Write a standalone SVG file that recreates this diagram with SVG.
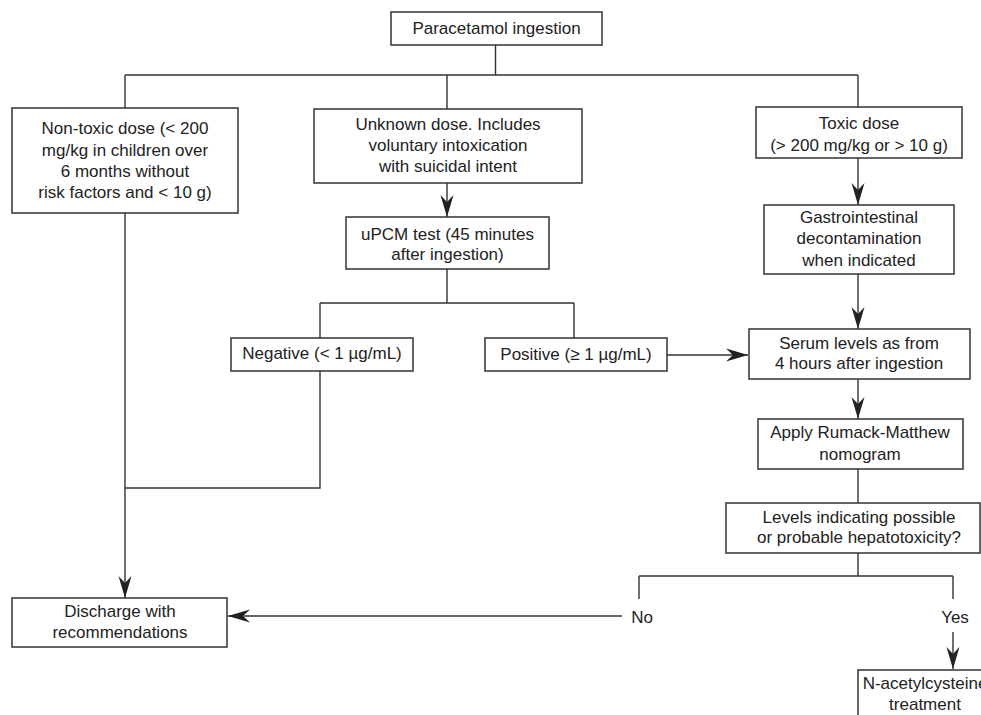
<svg xmlns="http://www.w3.org/2000/svg" width="981" height="715" viewBox="0 0 981 715">
<style>
.box{fill:#fff;stroke:#333;stroke-width:1.5}
.ln{fill:none;stroke:#333;stroke-width:1.4}
text{font-family:"Liberation Sans",Arial,sans-serif;font-size:17px;fill:#222;text-anchor:middle}
</style>
<defs>
<marker id="ah" markerUnits="userSpaceOnUse" markerWidth="24" markerHeight="16" viewBox="-23 -8 24 16" refX="0" refY="0" orient="auto">
<path d="M0,0 L-22,-6.5 L-15,0 L-22,6.5 Z" fill="#222"/>
</marker>
</defs>
<rect width="981" height="715" fill="#fff"/>
<g id="connectors">
<path class="ln" d="M495.5,45 V75 M125,75 H858 M125,75 V108 M447,75 V109 M858,75 V107"/>
<path class="ln" d="M447,183 V217" marker-end="url(#ah)"/>
<path class="ln" d="M447,269 V303 M320,303 H574 M320,303 V338 M574,303 V338"/>
<path class="ln" d="M667,355 H748" marker-end="url(#ah)"/>
<path class="ln" d="M858,158 V205" marker-end="url(#ah)"/>
<path class="ln" d="M858,274 V329" marker-end="url(#ah)"/>
<path class="ln" d="M858,379 V419" marker-end="url(#ah)"/>
<path class="ln" d="M858,469 V503"/>
<path class="ln" d="M858,553 V576 M639,576 H953 M639,576 V599 M953,576 V599"/>
<path class="ln" d="M622,616 H228" marker-end="url(#ah)"/>
<path class="ln" d="M953,632 V669" marker-end="url(#ah)"/>
<path class="ln" d="M125,213 V598" marker-end="url(#ah)"/>
<path class="ln" d="M320,371 V488 H125"/>
</g>
<g id="n-paracetamol"><rect class="box" x="391" y="12" width="211" height="33"/><text x="496.5" y="34">Paracetamol ingestion</text></g>
<g id="n-nontoxic"><rect class="box" x="12" y="108" width="226" height="105"/>
<text x="125" y="134">Non-toxic dose (&lt; 200</text><text x="125" y="156">mg/kg in children over</text><text x="125" y="177">6 months without</text><text x="125" y="198">risk factors and &lt; 10 g)</text></g>
<g id="n-unknown"><rect class="box" x="314" y="109" width="268" height="74"/>
<text x="448" y="130">Unknown dose. Includes</text><text x="448" y="151">voluntary intoxication</text><text x="448" y="172">with suicidal intent</text></g>
<g id="n-upcm"><rect class="box" x="346" y="217" width="203" height="52"/>
<text x="447.5" y="240">uPCM test (45 minutes</text><text x="447.5" y="260">after ingestion)</text></g>
<g id="n-toxic"><rect class="box" x="756" y="107" width="206" height="51"/>
<text x="859" y="129">Toxic dose</text><text x="859" y="151">(&gt; 200 mg/kg or &gt; 10 g)</text></g>
<g id="n-gastro"><rect class="box" x="764" y="205" width="190" height="69"/>
<text x="859" y="223">Gastrointestinal</text><text x="859" y="244">decontamination</text><text x="859" y="266">when indicated</text></g>
<g id="n-negative"><rect class="box" x="231" y="338" width="182" height="33"/><text x="322" y="359">Negative (&lt; 1 µg/mL)</text></g>
<g id="n-positive"><rect class="box" x="485" y="338" width="182" height="33"/><text x="576" y="360">Positive (≥ 1 µg/mL)</text></g>
<g id="n-serum"><rect class="box" x="749" y="329" width="221" height="50"/>
<text x="859" y="349">Serum levels as from</text><text x="859" y="369">4 hours after ingestion</text></g>
<g id="n-rumack"><rect class="box" x="758" y="419" width="205" height="50"/>
<text x="860" y="438">Apply Rumack-Matthew</text><text x="860" y="460">nomogram</text></g>
<g id="n-levels"><rect class="box" x="726" y="503" width="254" height="50"/>
<text x="859" y="523">Levels indicating possible</text><text x="859" y="543">or probable hepatotoxicity?</text></g>
<g id="n-no"><text x="642" y="623">No</text></g>
<g id="n-yes"><text x="955" y="623">Yes</text></g>
<g id="n-discharge"><rect class="box" x="12" y="598" width="215" height="49"/>
<text x="120" y="617">Discharge with</text><text x="120" y="638">recommendations</text></g>
<g id="n-nac"><rect class="box" x="858" y="670" width="170" height="60"/>
<text x="925" y="689">N-acetylcysteine</text><text x="925" y="710">treatment</text></g>
</svg>
